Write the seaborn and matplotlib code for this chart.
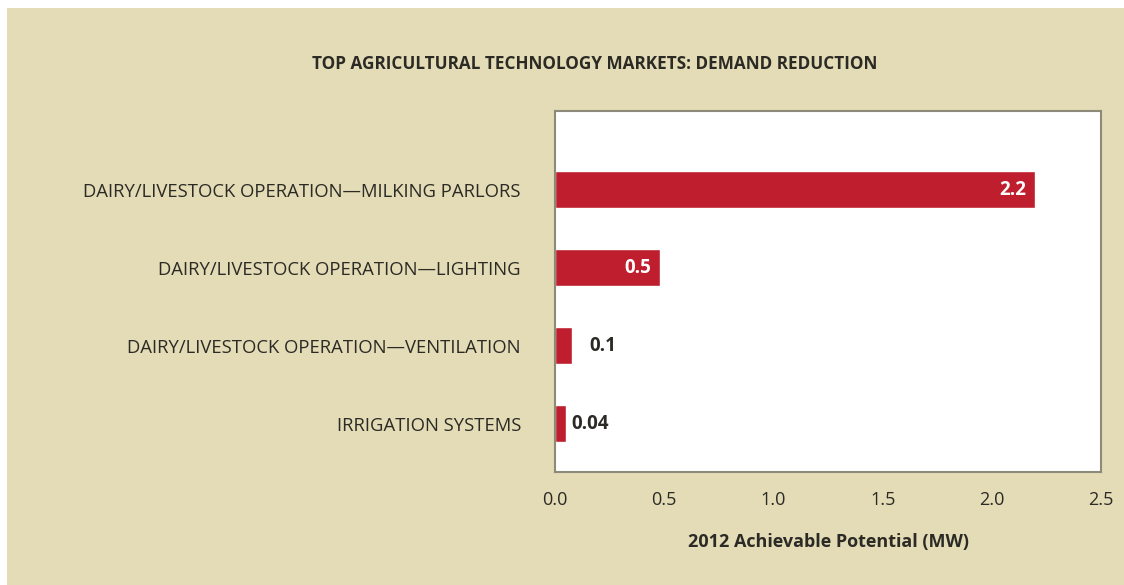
import pandas as pd
import seaborn as sns
import matplotlib.pyplot as plt
from matplotlib.patches import Rectangle

# Data
markets = ['DAIRY/LIVESTOCK OPERATION\u2014MILKING PARLORS',
           'DAIRY/LIVESTOCK OPERATION\u2014LIGHTING',
           'DAIRY/LIVESTOCK OPERATION\u2014VENTILATION',
           'IRRIGATION SYSTEMS']
potential = [2.2, 0.48, 0.08, 0.05]
value_labels = ['2.2', '0.5', '0.1', '0.04']
inside = [True, True, False, False]
label_pad = [-6.5, -6.5, 12, 4]   # points, offset of value label from bar end

df = pd.DataFrame({'market': markets, 'mw': potential})

sns.set_style('white')
plt.rcParams['font.family'] = ['Open Sans', 'DejaVu Sans']

bg = '#E4DCB6'
red = '#BE1E2D'
ink = '#2B2A25'

fig = plt.figure(figsize=(11.24, 5.85), dpi=100, facecolor='white')
# beige panel (thin white margin top/left like the scan)
fig.patches.append(Rectangle((7 / 1124, 0), 1, 1 - 8 / 585, transform=fig.transFigure,
                             facecolor=bg, edgecolor='none', zorder=-10))

ax = fig.add_axes([555 / 1124, 1 - 472 / 585, 546 / 1124, 361 / 585])
sns.barplot(data=df, x='mw', y='market', orient='h', color=red, width=0.47,
            saturation=1, ax=ax)

ax.set_xlim(0, 2.5)
ax.set_ylim(3.62, -1.01)
ax.set_xticks([0, 0.5, 1.0, 1.5, 2.0, 2.5])
ax.set_xticklabels(['0.0', '0.5', '1.0', '1.5', '2.0', '2.5'])
ax.tick_params(axis='x', length=0, pad=14, labelsize=13, labelcolor=ink)
ax.tick_params(axis='y', length=0, pad=24.5, labelsize=13.3, labelcolor=ink)
ax.set_ylabel('')
ax.set_xlabel('2012 Achievable Potential (MW)', fontsize=13, fontweight='bold',
              color=ink, labelpad=17)
for s in ax.spines.values():
    s.set_color('#8C8A78')
    s.set_linewidth(1.5)
ax.set_facecolor('white')

for bar, lab, ins, pad in zip(ax.patches, value_labels, inside, label_pad):
    w = bar.get_width()
    yc = bar.get_y() + bar.get_height() / 2
    ax.annotate(lab, (w, yc), xytext=(pad, 0), textcoords='offset points',
                ha='right' if ins else 'left', va='center',
                color='white' if ins else ink, fontweight='bold', fontsize=13.5)

fig.text(595 / 1124, 1 - 64 / 585, 'TOP AGRICULTURAL TECHNOLOGY MARKETS: DEMAND REDUCTION',
         ha='center', va='center', fontsize=12.3, fontweight='bold', color=ink)

fig.savefig('out.png', dpi=100, facecolor=fig.get_facecolor())
